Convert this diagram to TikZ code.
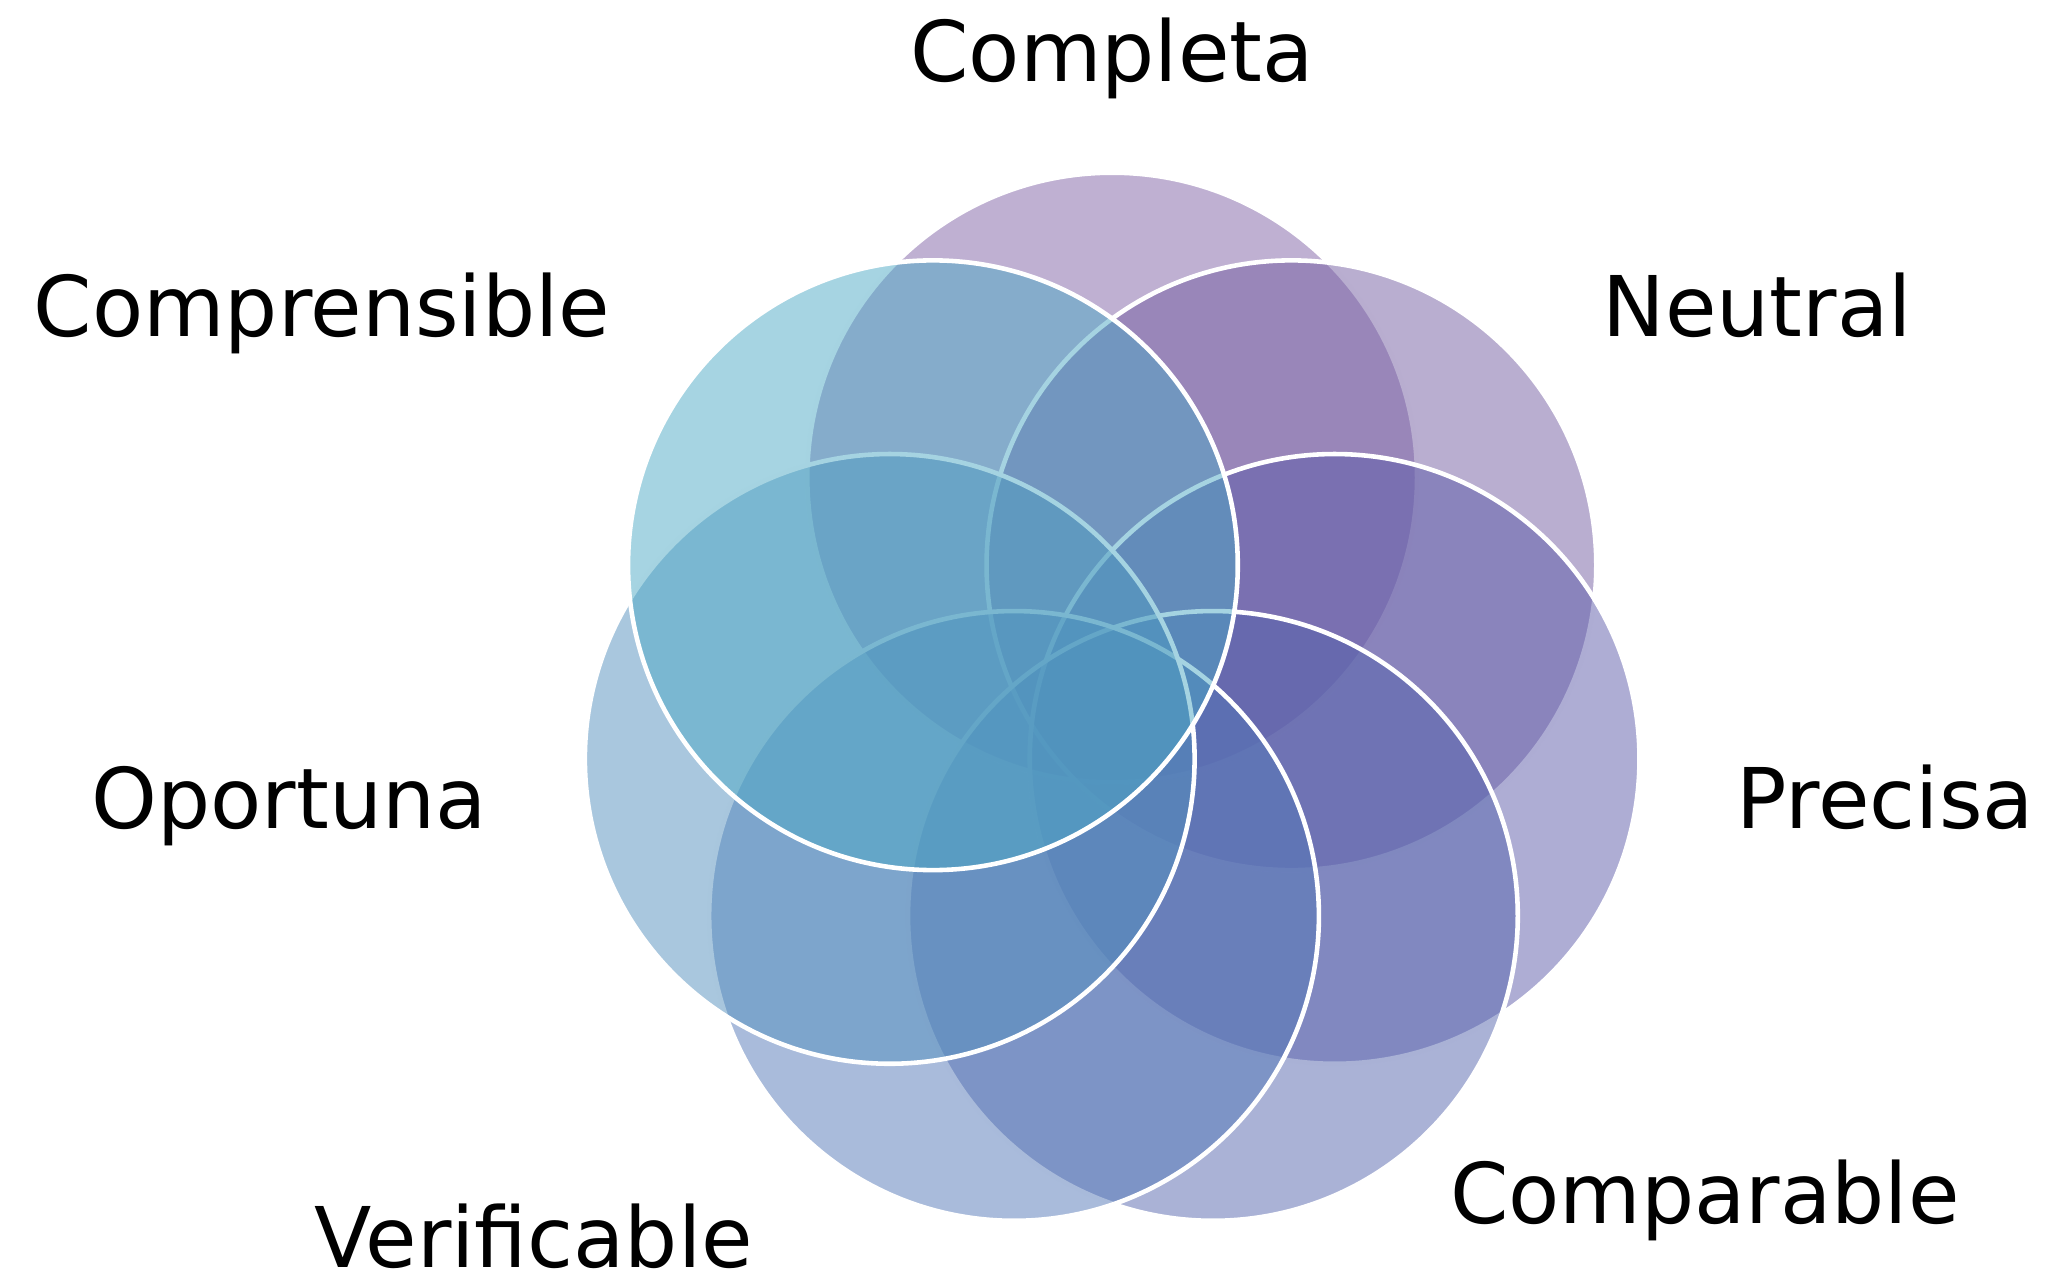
\documentclass[tikz,border=0pt]{standalone}
\usepackage{fontspec}
\setmainfont{DejaVu Sans}
\definecolor{cCompleta}{RGB}{127,97,165}
\definecolor{cNeutral}{RGB}{115,93,161}
\definecolor{cPrecisa}{RGB}{93,91,169}
\definecolor{cComparable}{RGB}{85,101,173}
\definecolor{cVerificable}{RGB}{83,119,183}
\definecolor{cOportuna}{RGB}{83,143,189}
\definecolor{cComprensible}{RGB}{77,169,197}
\tikzset{
  venn/.style={circle, minimum size=466pt, inner sep=0pt, draw=white, line width=3.5pt, fill=#1, fill opacity=0.5, draw opacity=1},
  lab/.style={anchor=base, inner sep=0pt, font=\fontsize{64}{77}\selectfont, text=black}
}
\begin{document}
\begin{tikzpicture}[x=1pt,y=-1pt]
\useasboundingbox (0,0) rectangle (1566,977);
\node[venn=cCompleta]     (completa)     at (850,365) {};
\node[venn=cNeutral]      (neutral)      at (987,432) {};
\node[venn=cPrecisa]      (precisa)      at (1020,580) {};
\node[venn=cComparable]   (comparable)   at (927,700) {};
\node[venn=cVerificable]  (verificable)  at (775,700) {};
\node[venn=cOportuna]     (oportuna)     at (680,580) {};
\node[venn=cComprensible] (comprensible) at (713,432) {};
\node[lab] (lCompleta)     at (850,62)   {Completa};
\node[lab] (lNeutral)      at (1343,257) {Neutral};
\node[lab] (lComprensible) at (246,257)  {Comprensible};
\node[lab] (lPrecisa)      at (1441,633) {Precisa};
\node[lab] (lOportuna)     at (221,633)  {Oportuna};
\node[lab] (lComparable)   at (1303,935) {Comparable};
\node[lab] (lVerificable)  at (408,969)  {Verificable};
\end{tikzpicture}
\end{document}
